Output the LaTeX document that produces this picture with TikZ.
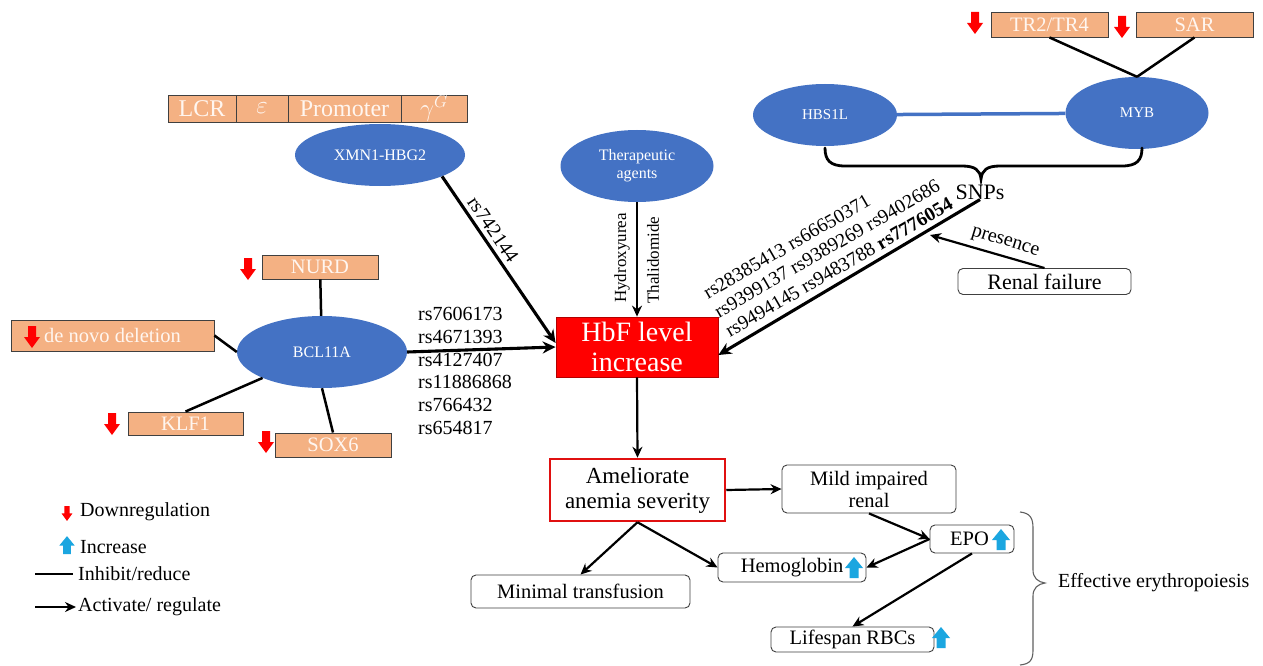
\documentclass[tikz,border=0pt]{standalone}
\usepackage{fontspec}
\setmainfont{Liberation Serif}
\usetikzlibrary{arrows.meta,shapes.geometric,calc}
\definecolor{ellblue}{HTML}{4472C4}
\definecolor{salmon}{HTML}{F4B183}
\definecolor{redA}{HTML}{FF0000}
\definecolor{skyA}{HTML}{1BA6E0}
\definecolor{boxline}{HTML}{404040}
\definecolor{lighttxt}{HTML}{FFF6F0}
\definecolor{amelred}{HTML}{E01010}
\definecolor{hbfred}{HTML}{FF0000}
\definecolor{bracegray}{HTML}{606060}
\newcommand{\fz}[2]{\fontsize{#1}{#2}\selectfont}
\begin{document}
\begin{tikzpicture}[x=1pt,y=-1pt,
  ell/.style={ellipse, fill=ellblue, draw=none, inner sep=0pt, text=white, font=\fz{16}{18}, align=center},
  salbox/.style={rectangle, fill=salmon, draw=boxline, line width=0.9pt, inner sep=0pt, text=lighttxt, font=\fz{20.5}{22}},
  rbox/.style={rectangle, rounded corners=5pt, draw=boxline, line width=0.9pt, fill=white, inner sep=0pt, align=center, font=\fz{20.5}{22}},
  link/.style={line width=2.5pt},
  arr/.style={line width=2.2pt, -{Stealth[length=11pt,width=10pt]}},
  bigarr/.style={line width=3.1pt, -{Stealth[length=13pt,width=12pt]}},
  lbl/.style={inner sep=0pt, font=\fz{20}{22.8}},
  dnarrow/.pic={\fill[redA] (-4,0) -- (4,0) -- (4,11) -- (8,11) -- (0,22) -- (-8,11) -- (-4,11) -- cycle;},
  uparrow/.pic={\fill[skyA] (-4.5,0) -- (4.5,0) -- (4.5,-10) -- (9,-10) -- (0,-21) -- (-9,-10) -- (-4.5,-10) -- cycle;}
]
\useasboundingbox[fill=white] (0,0) rectangle (1263,666);

% top gene bar
\node[salbox, minimum width=68pt, minimum height=27pt, font=\fz{24}{26}] (lcr) at (202,108.5) {LCR};
\node[salbox, minimum width=52pt, minimum height=27pt, font=\fz{24}{26}] (eps) at (262,108.5) {$\varepsilon$};
\node[salbox, minimum width=113pt, minimum height=27pt, font=\fz{24}{26}] (prom) at (344.5,108.5) {Promoter};
\node[salbox, minimum width=66pt, minimum height=27pt, font=\fz{24}{26}] (gam) at (434,108.5) {$\gamma^{G}$};

% ellipses
\node[ell, minimum width=170pt, minimum height=62pt] (xmn) at (380,155) {XMN1-HBG2};
\node[ell, minimum width=153pt, minimum height=72pt] (ther) at (637,166) {Therapeutic\\agents};
\node[ell, minimum width=144pt, minimum height=62pt, font=\fz{15}{17}] (hbs) at (825,115) {HBS1L};
\node[ell, minimum width=143pt, minimum height=72pt, font=\fz{15}{17}] (myb) at (1137,113) {MYB};
\node[ell, minimum width=170pt, minimum height=72pt] (bcl) at (322,352) {BCL11A};

% salmon boxes
\node[salbox, minimum width=117pt, minimum height=25pt] (tr) at (1049.5,24.5) {TR2/TR4};
\node[salbox, minimum width=117pt, minimum height=25pt] (sar) at (1194.5,24.5) {SAR};
\node[salbox, minimum width=116pt, minimum height=24pt] (nurd) at (320,267) {NURD};
\node[salbox, minimum width=203pt, minimum height=31pt] (dnd) at (112.5,335.5) {de novo deletion};
\node[salbox, minimum width=115pt, minimum height=23pt] (klf) at (185.5,423.5) {KLF1};
\node[salbox, minimum width=116pt, minimum height=24pt] (sox) at (333,445) {SOX6};

% red down arrows
\pic at (975,12) {dnarrow};
\pic at (1122,16) {dnarrow};
\pic at (248,258) {dnarrow};
\pic at (32,326) {dnarrow};
\pic at (112,413) {dnarrow};
\pic at (266,431) {dnarrow};

% central boxes
\node[rectangle, fill=hbfred, draw=red!70!black, line width=0.8pt, minimum width=162pt, minimum height=60pt, text=white, align=center, font=\fz{28}{30}] (hbf) at (637,347) {HbF level\\increase};
\node[rectangle, draw=amelred, line width=2.5pt, fill=white, minimum width=175pt, minimum height=62pt, align=center, font=\fz{23}{25}] (amel) at (637.5,490) {Ameliorate\\anemia severity};
\node[rbox, minimum width=174pt, minimum height=48pt] (mild) at (869,489) {Mild impaired\\renal};
\node[rbox, minimum width=173pt, minimum height=26pt, font=\fz{22}{24}] (ren) at (1044.5,281.5) {Renal failure};
\node[rbox, minimum width=84pt, minimum height=28pt] (epo) at (972,539) {EPO\hspace{5pt}};
\node[rbox, minimum width=148pt, minimum height=29pt] (hgb) at (792,567.5) {Hemoglobin};
\node[rbox, minimum width=219pt, minimum height=33pt] (minim) at (580.5,591.5) {Minimal transfusion};
\node[rbox, minimum width=163pt, minimum height=25pt] (life) at (852.5,639.5) {Lifespan RBCs};

% blue up arrows
\pic at (1001,550) {uparrow};
\pic at (854,578) {uparrow};
\pic at (941,648) {uparrow};

% labels
\node[lbl, font=\fz{22}{24}] (snp) at (980,192) {SNPs};
\node[lbl, rotate=30, align=left, font=\fz{19.5}{22}] (snplist) at (828,248) {rs28385413 rs66650371\\rs9399137 rs9389269 rs9402686\\rs9494145 rs9483788 \textbf{rs7776054}};
\node[lbl, anchor=west, align=left] (rsl) at (418,371) {rs7606173\\rs4671393\\rs4127407\\rs11886868\\rs766432\\rs654817};
\node[lbl, rotate=90, font=\fz{17}{19}] (hyd) at (622,258) {Hydroxyurea};
\node[lbl, rotate=90, font=\fz{17}{19}] (tha) at (653,260) {Thalidomide};
\node[lbl, rotate=-17] (pres) at (1005,243) {presence};
\node[lbl, anchor=west] (eff) at (1058,583) {Effective erythropoiesis};

% connectors
\draw[link] (nurd) -- (bcl);
\draw[link] (dnd.east) -- (bcl.west);
\draw[link] (klf.north) -- (bcl);
\draw[link] (sox.north) -- (bcl.south);
\draw[link] (tr.south) -- (myb.north);
\draw[link] (sar.south) -- (myb.north);
\draw[line width=3.5pt, ellblue] (hbs) -- (myb);
\draw[bigarr] (xmn.-19) -- ([yshift=4pt]hbf.west) node[lbl, sloped, above=4pt, pos=0.36] (rs74) {rs742144};
\draw[bigarr] (bcl.east) -- (hbf.west);
\draw[arr] (ther.south) -- (hbf.north);
\draw[bigarr] (snp.south) -- ([yshift=-8pt]hbf.east);
\coordinate (pj) at (930,235);
\draw[arr] (ren.north) -- (pj);
\draw[arr] (hbf.south) -- (amel.north);
\draw[arr] (amel.east) -- (mild.west);
\draw[arr] (mild.south) -- (epo.west);
\draw[arr] (epo.west) -- (hgb.east);
\draw[arr] (amel.south) -- (hgb.west);
\draw[arr] (amel.south) -- (minim.north);
\draw[arr] (epo.south) -- (life.north);

% braces
\draw[line width=2.8pt, line cap=round] (825,148) .. controls (825,160) and (830,166) .. (845,166) -- (962,166) .. controls (975,166) and (980,170) .. (981,179) .. controls (982,170) and (987,166) .. (1000,166) -- (1122,166) .. controls (1137,166) and (1142,160) .. (1142,148);
\draw[line width=1.1pt, bracegray] (1020,512) .. controls (1030,513) and (1033,518) .. (1033,528) -- (1033,570) .. controls (1033,578) and (1038,582) .. (1045,583) .. controls (1038,584) and (1033,588) .. (1033,596) -- (1033,650) .. controls (1033,660) and (1030,664) .. (1020,665);

% legend
\pic[scale=0.68] at (67,506) {dnarrow};
\pic[scale=0.85] at (67,554) {uparrow};
\node[lbl, anchor=west] (lg1) at (80,512) {Downregulation};
\node[lbl, anchor=west] (lg2) at (80,547) {Increase};
\node[lbl, anchor=west] (lg3) at (78,574) {Inhibit/reduce};
\node[lbl, anchor=west] (lg4) at (78,607) {Activate/ regulate};
\coordinate (l3a) at (35,574);
\coordinate (l4a) at (35,607);
\draw[link] (l3a) -- ([xshift=-5pt]lg3.west);
\draw[arr] (l4a) -- ([xshift=-2pt]lg4.west);
\end{tikzpicture}
\end{document}
